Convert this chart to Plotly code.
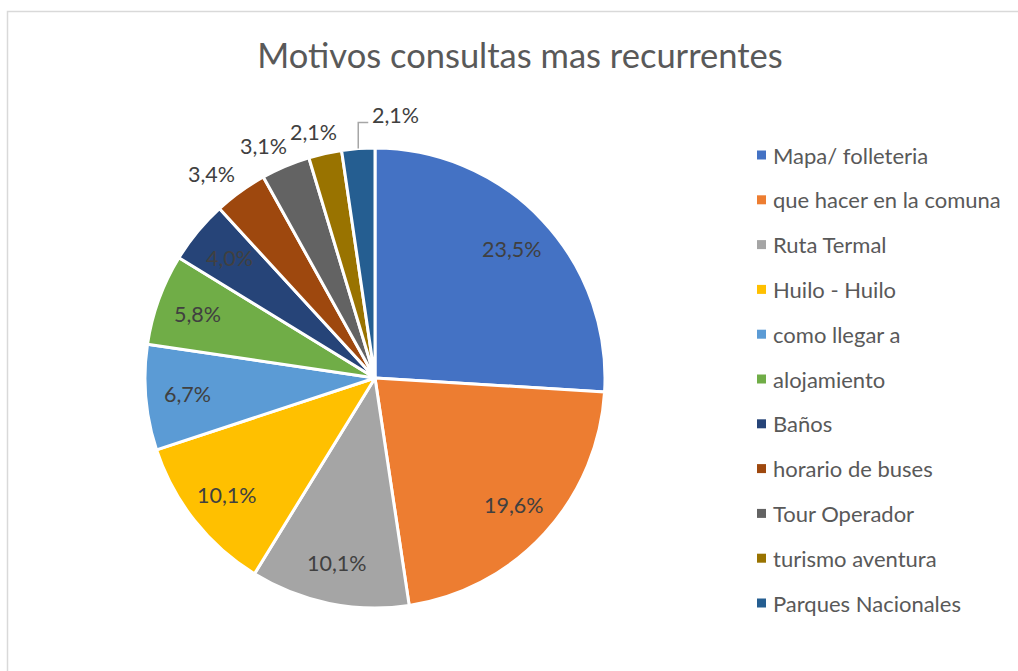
import math
import plotly.graph_objects as go

# ── Data ─────────────────────────────────────────────────────────────────────
CATEGORIES = ["Mapa/ folleteria", "que hacer en la comuna", "Ruta Termal",
              "Huilo - Huilo", "como llegar a", "alojamiento", "Baños",
              "horario de buses", "Tour Operador", "turismo aventura",
              "Parques Nacionales"]
SHARES = [23.5, 19.6, 10.1, 10.1, 6.7, 5.8, 4.0, 3.4, 3.1, 2.1, 2.1]
LABEL_TEXT = ["23,5%", "19,6%", "10,1%", "10,1%", "6,7%", "5,8%", "4,0%",
              "3,4%", "3,1%", "2,1%", "2,1%"]

# ── Style ────────────────────────────────────────────────────────────────────
LABEL_MODE = ["in"] * 7 + ["out"] * 3 + ["leader"]
COLORS = ["#4472C4", "#ED7D31", "#A5A5A5", "#FFC000", "#5B9BD5", "#70AD47",
          "#264478", "#9E480E", "#636363", "#997300", "#255E91"]
INK = "#595959"
LABEL_INK = "#404040"
FONT = "Lato, 'Open Sans', sans-serif"
LABEL_SIZE = 21.5

W, H = 1018, 671
CX, CY, R = 375, 378, 230          # pie centre / radius in px


def px(x):
    return x / W


def py(y):
    return 1 - y / H


fig = go.Figure(go.Pie(
    labels=CATEGORIES, values=SHARES, text=LABEL_TEXT,
    textinfo="none", sort=False, direction="clockwise", rotation=0,
    marker=dict(colors=COLORS, line=dict(color="white", width=3)),
    domain=dict(x=[px(CX - R), px(CX + R)], y=[py(CY + R), py(CY - R)]),
    hoverinfo="label+text", showlegend=False,
))

annotations, shapes = [], []
lab_font = dict(family=FONT, size=LABEL_SIZE, color=LABEL_INK)


def label(x, y, txt, xanchor="center"):
    annotations.append(dict(x=px(x), y=py(y), text=txt, showarrow=False,
                            xanchor=xanchor, yanchor="middle", font=lab_font,
                            xref="paper", yref="paper"))


# data labels, placed from the slice mid-angles
total = sum(SHARES)
start = 0.0
for share, txt, mode in zip(SHARES, LABEL_TEXT, LABEL_MODE):
    span = share / total * 2 * math.pi
    mid = start + span / 2
    start += span
    s, c = math.sin(mid), math.cos(mid)
    if mode == "in":
        r = 0.82 * R
        label(CX + r * s, CY - r * c, txt)
    elif mode == "out":
        r = R + 10
        hw = len(txt) * 0.53 * LABEL_SIZE / 2
        hh = 12
        kx = min(1.0, 2 * abs(s)) * (1 if s > 0 else -1)
        label(CX + r * s + hw * kx, CY - r * c - hh * c, txt)
    else:
        x0, y0 = CX + R * s, CY - R * c
        y1 = y0 - 26
        x1 = x0 + 10
        shapes.append(dict(type="path", xref="paper", yref="paper",
                           path=f"M {px(x0)},{py(y0)} L {px(x0)},{py(y1)} L {px(x1)},{py(y1)}",
                           line=dict(color="#A6A6A6", width=1.5)))
        label(x1 + 2, y1 - 8, txt, xanchor="left")

# legend, drawn by hand to keep Excel's row spacing
LEG_X, LEG_Y0, LEG_DY = 757, 155, 44.8
for i, (name, col) in enumerate(zip(CATEGORIES, COLORS)):
    yc = LEG_Y0 + i * LEG_DY
    shapes.append(dict(type="rect", xref="paper", yref="paper",
                       x0=px(LEG_X), x1=px(LEG_X + 9), y0=py(yc + 4.5), y1=py(yc - 4.5),
                       fillcolor=col, line=dict(width=0)))
    annotations.append(dict(x=px(LEG_X + 14), y=py(yc), text=name, showarrow=False,
                            xanchor="left", yanchor="middle", xref="paper", yref="paper",
                            font=dict(family=FONT, size=22, color=INK)))

# chart-area border
shapes.append(dict(type="rect", xref="paper", yref="paper",
                   x0=px(7.5), x1=px(W + 20), y0=py(H + 20), y1=py(11.5),
                   line=dict(color="#D9D9D9", width=1.5)))

fig.update_layout(
    width=W, height=H,
    margin=dict(l=0, r=0, t=0, b=0),
    paper_bgcolor="white",
    font=dict(family=FONT, color=INK),
    title=dict(text="Motivos consultas mas recurrentes",
               x=px(520), xanchor="center", y=py(56), yanchor="middle",
               font=dict(family=FONT, size=34.5, color=INK)),
    annotations=annotations,
    shapes=shapes,
)

fig.write_html("out.html", config={"displayModeBar": False},
               post_script="document.body.style.margin='0';")
